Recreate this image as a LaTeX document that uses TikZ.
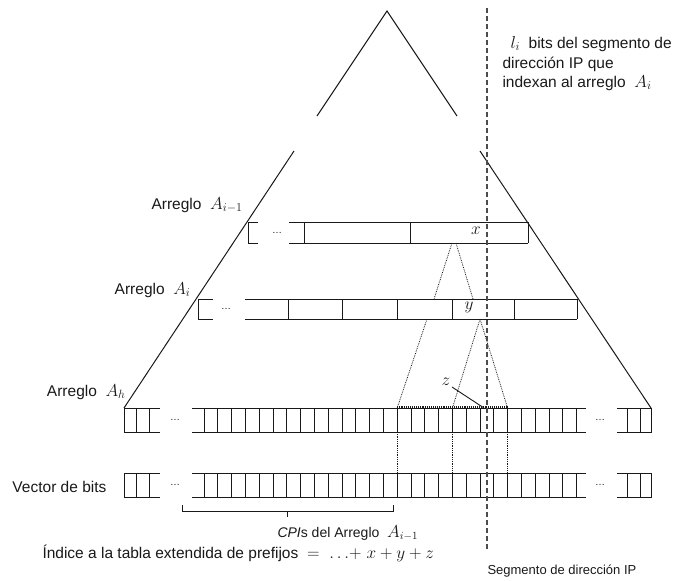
\documentclass[tikz,border=0pt]{standalone}
\usepackage{fontspec}
\setmainfont{Liberation Sans}
\usepackage{tikz}
\definecolor{ink}{RGB}{25,25,25}
\definecolor{cut}{RGB}{75,75,75}
\newcommand{\lblsize}{\fontsize{15.5}{18}\selectfont}
\newcommand{\cpisize}{\fontsize{14}{17}\selectfont}
\newcommand{\segsize}{\fontsize{13}{16}\selectfont}
\newcommand{\mth}[1]{{\fontsize{18}{20}\selectfont$#1$}}

\begin{document}
\begin{tikzpicture}[x=1pt,y=-1pt,line width=1pt,ink,
  lbl/.style={font=\lblsize,inner sep=0pt},
  gap/.style={font=\fontsize{10}{12}\selectfont,inner sep=0pt},
  link/.style={densely dotted,line width=0.8pt},
  ipcut/.style={cut,line width=1.4pt,dash pattern=on 5pt off 3pt}]
 \useasboundingbox (0,0) rectangle (678,581);
 % piramide
 \draw (317,116)--(387,11)--(457,116);
 \draw (294,151)--(124,408);
 \draw (480,151)--(651,408);
 % arreglo A_{i-1}
 \draw (258,222)--(248,222)--(248,243)--(258,243);
 \node[gap] (gA1) at (277,232.5) {\ldots};
 \draw (289,222)--(528,222) (289,243)--(528,243);
 \foreach \x in {304,410,528}
   \draw (\x,222)--(\x,243);
 % arreglo A_i
 \draw (213,299)--(198,299)--(198,319)--(213,319);
 \node[gap] (gA2) at (226,309) {\ldots};
 \draw (245,299)--(577,299) (245,319)--(577,319);
 \foreach \x in {288,342,397,452,514,577}
   \draw (\x,299)--(\x,319);
 % arreglo A_h y vector de bits
 \foreach \t/\b in {408/432,473/497}{
   \draw (160,\t)--(124,\t)--(124,\b)--(160,\b);
   \draw (136,\t)--(136,\b) (149,\t)--(149,\b);
   \node[gap] (gl\t) at (175,{(\t+\b)/2}) {\ldots};
   \draw (192,\t)--(586,\t) (192,\b)--(586,\b);
   \foreach \k in {0,...,27}
     \draw ({204+13.8*\k},\t)--({204+13.8*\k},\b);
   \node[gap] (gr\t) at (600,{(\t+\b)/2}) {\ldots};
   \draw (617,\t)--(651,\t)--(651,\b)--(617,\b);
   \draw (627,\t)--(627,\b) (640,\t)--(640,\b);
 }
 % enlaces punteados
 \draw[link] (452,243)--(434,299);
 \draw[link] (456,243)--(473,299);
 \draw[link] (427,319)--(397.2,408);
 \draw[link] (480,319)--(452.4,408);
 \draw[link] (480,319)--(507.6,408);
 \draw[link,line width=1.1pt] (397.2,407)--(507.6,407);
 \foreach \x in {397.2,452.4,507.6}
   \draw[link] (\x,432)--(\x,473);
 % segmento de direccion IP
 \draw[ipcut] (487,8)--(487,550);
 \node[inner sep=0pt] (cx) at (476,231) {\mth{x}};
 \node[inner sep=0pt] (cy) at (469,307) {\mth{y}};
 \node[inner sep=0pt] (cz) at (446,382) {\mth{z}};
 \draw[line width=0.9pt] (452,387)--(484,408);
 % llave
 \draw[line width=0.9pt] (182,505)--(182,511)--(393,511)--(393,505) (287,511)--(287,517);
 % textos
 \node[lbl,anchor=base east] (lA1) at (243,209) {Arreglo\ \ \mth{A_{i-1}}};
 \node[lbl,anchor=base east] (lA2) at (191,294) {Arreglo\ \ \mth{A_i}};
 \node[lbl,anchor=base east] (lA3) at (126,396) {Arreglo\ \ \mth{A_h}};
 \node[lbl,anchor=base west] (lvb) at (12,492) {Vector de bits};
 \node[lbl,anchor=base west] (tr1) at (510,48) {\mth{l_i}\ \ bits del segmento de};
 \node[lbl,anchor=base west] (tr2) at (502,68) {dirección IP que};
 \node[lbl,anchor=base west] (tr3) at (502,87) {indexan al arreglo\ \ \mth{A_i}};
 \node[font=\cpisize,inner sep=0pt,anchor=base west] (cpi) at (277,537) {\textit{CPI}s del Arreglo\ \ {\fontsize{16}{18}\selectfont$A_{i-1}$}};
 \node[lbl,anchor=base west] (idx) at (42,558) {Índice a la tabla extendida de prefijos\ \ \mth{=\ {\ldots}{+}\ x+y+z}};
 \node[font=\segsize,inner sep=0pt,anchor=base west] (seg) at (487,574) {Segmento de dirección IP};
\end{tikzpicture}
\end{document}
